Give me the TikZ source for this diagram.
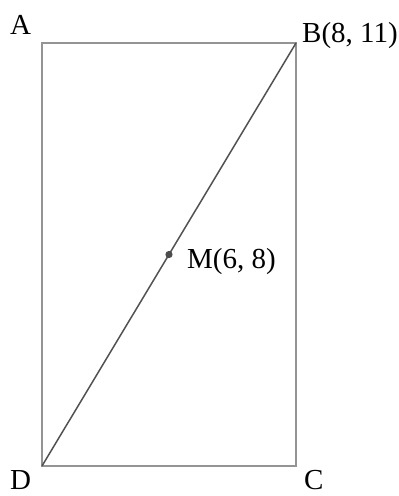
\documentclass[tikz,border=0pt]{standalone}
\usepackage{fontspec}
\setmainfont{Liberation Serif}
\usetikzlibrary{calc}
\begin{document}
\begin{tikzpicture}[x=1pt,y=-1pt,
  lbl/.style={anchor=base west,inner sep=0pt,text depth=0pt,font=\fontsize{29}{29}\selectfont},
  side/.style={draw=black!42,line width=1.9pt},
  diag/.style={draw=black!68,line width=1.5pt}]
\useasboundingbox[fill=white] (0,0) rectangle (399,496);
\coordinate (A) at (42,43);
\coordinate (B) at (296,43);
\coordinate (C) at (296,466);
\coordinate (D) at (42,466);
\coordinate (M) at ($(B)!0.5!(D)$);
\draw[side] (A) -- (B) -- (C) -- (D) -- cycle;
\draw[diag] (D) -- (B);
\fill[black!70] (M) circle (3.6pt);
\node[lbl] (la) at (10,34) {A};
\node[lbl] (lb) at (302,42) {B(8, 11)};
\node[lbl] (lm) at (187,268) {M(6, 8)};
\node[lbl] (ld) at (10,489) {D};
\node[lbl] (lc) at (304,489) {C};
\end{tikzpicture}
\end{document}
